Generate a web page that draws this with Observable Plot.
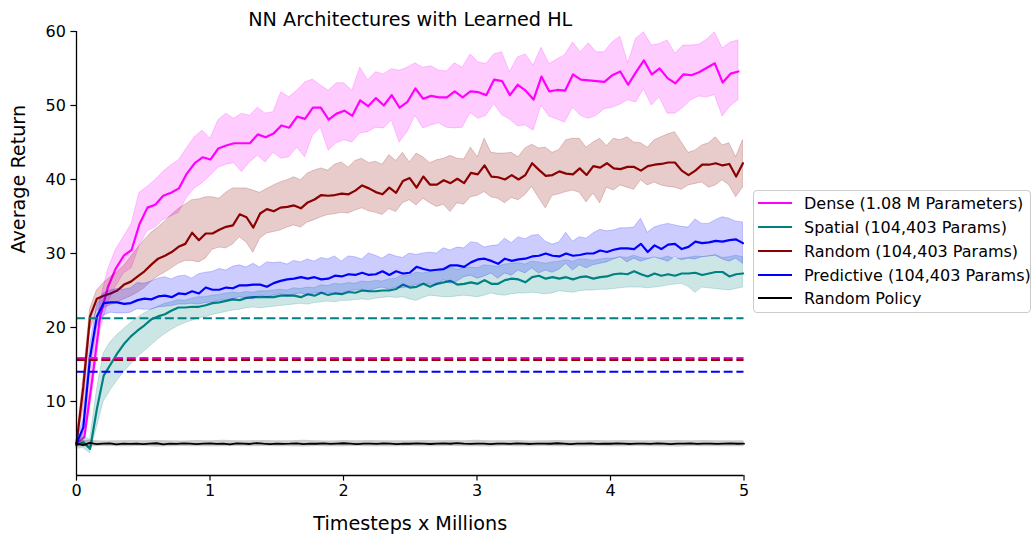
<!DOCTYPE html>
<html><head><meta charset="utf-8">
<script src="https://cdn.jsdelivr.net/npm/d3@7"></script>
<script src="https://cdn.jsdelivr.net/npm/@observablehq/plot@0.6"></script>
<style>
body{margin:0;background:#fff;font-family:"DejaVu Sans",sans-serif;}
#wrap{position:relative;width:1033px;height:540px;overflow:hidden;}
#legend{position:absolute;left:753px;top:190px;width:278px;height:123px;border:1px solid #cccccc;border-radius:4px;background:#fff;box-sizing:border-box;}
.row{position:absolute;left:0;height:24px;display:flex;align-items:center;font-size:16px;color:#000;white-space:nowrap;}
.sw{width:34px;height:2.4px;margin-left:4px;margin-right:12px;}
</style></head><body><div id="wrap"><div id="legend"></div></div>
<script>
// ---- data (Timesteps in millions, Average Return) ----
const title = "NN Architectures with Learned HL";
const xLabel = "Timesteps x Millions";
const yLabel = "Average Return";
const xTicks = [0, 1, 2, 3, 4, 5];
const yTicks = [10, 20, 30, 40, 50, 60];

const seriesNames = ["Dense (1.08 M Parameters)", "Spatial (104,403 Params)", "Random (104,403 Params)", "Predictive (104,403 Params)", "Random Policy"];
const seriesColors = ["#ff00ff", "#008080", "#8b0000", "#0000ff", "#000000"];

// sampling interval of each logged run (millions of timesteps)
const denseStep = 0.05903;
const runStep = 0.05094;
const policyStep = 0.05;
const policyBandStep = 0.1;

const denseMean = [4.3,5.2,13,21.5,25.5,28,29.7,30.5,34,36.2,36.6,37.8,38.2,38.8,40.8,42.2,43,42.7,44.2,44.6,44.9,44.9,44.9,46.1,45.7,46.2,47.3,47,48.5,48.2,49.7,49.7,48.1,48.9,49.3,48.6,50.7,49.9,51,50,51.4,49.7,50.5,52.3,50.9,51.3,51.1,51.1,51.9,51.1,51.9,51.8,51.4,53.5,53.3,51.4,52.8,52,50.8,53.9,51.9,52.1,52,54.2,53.5,53.4,53.3,53.2,54.1,54.6,52.8,54.5,56.1,54.2,55,53.7,53,54.2,54.1,54.5,55.1,55.7,53.1,54.3,54.6];
const denseHi = [4.6,6,15,23.5,27.8,30.5,32.2,34,38.2,39,39.9,41,41.9,42.6,44.2,45.7,46.6,45.5,48,48.9,48.2,48.9,48.6,49.7,48.9,49.1,51.8,51.1,52,53.1,53.5,52.7,52,53,53,52,55.1,53.4,54.5,54.2,54.9,54.7,55.1,55.7,55.1,55.3,54.7,54.6,55.7,55.1,56.9,55.8,55.6,56.9,57.2,54.5,56.5,56.9,55.4,57.8,55.6,56.2,56.8,58.5,57.2,58.4,57.2,57.2,58.5,59.3,55.7,59,59.9,58.1,58.3,58.8,57,58.1,58.1,58.2,58.9,59.9,57.7,58.5,58.8];
const denseLo = [4,4.6,11,19.5,23.3,25.5,27.3,28,31,33,33.5,34.5,35,35.5,37.5,38.8,39.5,40.5,41.6,42,42.2,41,42.3,43.2,42.3,43.6,42.8,43,44.3,43,45.9,47,43.9,44.9,45.3,45,46.2,46.4,47,46.9,48,45,46.4,48.6,46.9,47.3,47.6,47,46.9,47,49,48.2,48.6,50.2,48.7,48.1,47.2,47.3,46.6,50,48.5,48.1,47.7,49.7,48.6,48.2,48.6,49.5,49.7,50.1,50.7,50.4,52.2,50,51.1,48.9,48.9,49.7,50.7,51.2,51.1,51.4,48.5,49.9,50.7];

const spatialMean = [4.1,4.5,3.6,9,13.5,15,16.5,17.8,18.8,19.6,20.3,21.1,21.5,21.8,22.3,22.7,22.7,22.8,22.8,23,23.3,23.4,23.6,23.8,23.7,24,24.1,24.1,24.1,24.1,24.3,24.3,24.3,24.1,24.5,24.3,24.7,24.4,24.6,24.5,24.8,24.7,25,24.9,24.9,25,25,25.2,25.8,25.4,25.5,25.9,25.5,25.9,26.1,26.3,25.8,25.9,26.1,25.9,26.4,25.9,25.9,26.4,26.6,26.5,26.1,26.8,27,26.6,26.8,26.6,26.8,26.5,26.8,26.9,26.6,26.8,26.9,27.2,27.3,27.2,27.6,27.2,26.9,27.3,27,27.2,27,27.3,27.3,27.4,27.1,27.3,27.5,27.5,26.9,27.2,27.3];
const spatialHi = [4.5,5.3,4.8,11.5,16.5,18,19,19.8,20.6,21.3,21.9,22.4,22.8,23.2,23.4,23.7,23.6,23.9,24.1,24.1,24.3,24.4,24.6,24.7,24.6,24.8,24.7,24.9,24.9,25,25.1,25,25.3,25.2,25.4,25.3,25.7,25.6,25.9,25.8,26,25.9,26.2,26.1,26.3,26.2,26.5,26.6,27.1,27,27.4,27.3,27.5,27.7,27.8,28.1,27.8,28,28.1,28,28.4,28.3,28.2,28.5,28.6,28.7,28.5,28.9,28.8,28.6,28.8,28.9,29.1,28.9,29.2,29.2,29,29.2,29.3,29.3,29.5,29.4,29.7,29.4,29.3,29.4,29.3,29.6,29.2,29.3,29.4,29.6,29.5,29.6,29.8,29.4,29.5,29.7,29.5];
const spatialLo = [3.6,3.7,3,6.5,10,11.5,12.8,14,15,16,16.8,17.6,18.4,19.1,19.7,20.2,20.6,20.9,21.2,21.4,21.7,21.9,22.1,22.3,22.4,22.6,22.7,22.6,22.7,22.8,22.9,23,23.1,23.2,23.1,23.3,23.4,23.5,23.4,23.6,23.6,23.7,23.8,23.7,23.9,24,24.1,24,24.1,23.8,23.6,24,24.3,24.2,24.1,24.1,24.2,24.3,24.2,24.1,24.3,24.6,24.4,24.3,24.5,24.6,24.6,24.7,24.6,24.5,24.6,24.9,24.8,24.7,24.9,25,25,25.1,25.1,25.2,25.3,25.4,25.4,25.4,25.3,25.4,25.5,25.7,25.8,25.9,25.5,24.7,25.4,25.3,25.2,25.1,25,25.2,25.4];

const randomMean = [4.3,12,21.5,23.9,24.3,24.6,25,25.8,26.2,26.9,27.6,28.5,29.3,29.7,30.2,30.9,31.3,32.8,31.8,32.7,32.7,33.2,33.6,33.8,35.3,34.9,33.5,35.4,36,35.7,36.2,36.3,36.5,36.1,36.9,37.3,37.9,37.8,37.9,38.1,38,38.5,39.2,38.8,38.3,38,38.9,38.2,39.8,40.2,38.9,40.4,39.3,39.3,39.9,39.5,40.1,39.5,40.9,40.7,41.9,40.4,40.3,40,40.6,40,40.6,42.2,41.3,40.5,40.6,41.1,40.8,40.7,41.5,40.6,41.8,41.6,42.2,41.5,41.4,41.7,41.7,41.2,41.8,42,42.1,42.3,42.3,41.2,40.6,41.2,42,42,42.2,41.9,42.1,40.4,42.2];
const randomHi = [4.6,13,22.5,25,26,26.8,27.5,28.3,29.5,30.7,31.8,32.8,33.5,34.3,35.2,36,36.6,37.2,37.3,37.6,37.6,37.4,38.2,38.8,38.8,38.8,38.5,38.2,38.7,39.2,39.6,39.9,40.3,39.9,40.8,41.2,41.5,41.2,42,42.3,41.6,42.5,42.8,42.2,42.4,42,43.3,42.5,43.6,42.3,43.5,43,42.2,42.6,42.8,43.2,42.8,42.7,44.3,43,45.5,43.6,43.5,43.5,43.6,43,44.2,44.7,44.2,44.3,43.6,44,45.3,45.5,45.5,44.3,45,45.5,44.5,45.5,45.3,45.7,45,44.9,44.3,45.3,45.7,46.1,46.4,45,43.6,43.9,44.6,44.9,45.7,44.6,44.9,43,45.3];
const randomLo = [4,9,19.5,22.3,22.6,23,23.4,23.8,24.2,24.7,25.3,26.2,26.9,27.4,28,28.6,29,29,28.8,29.3,30.5,30.8,30.7,31.2,32.2,31.5,30.1,32,32.7,32.9,33.1,33.5,33.8,33.5,34.2,34.5,34.9,35.2,35.3,35.5,35.4,35.8,36.1,35.7,35.5,35.2,36,35.6,36.8,37.2,36.5,37.4,36.8,36.3,36.6,35.6,36.8,36.6,37.6,37.8,38.3,37.6,37.4,36.8,37.5,37.2,37.9,39,37.5,36.1,37.8,38,38.3,38.5,38.2,36.9,38.1,36.8,38.9,38.5,39.2,38.9,38.6,39.9,39.2,39.6,39.2,39,38.9,38.6,39.2,39.4,39.6,38.9,39.2,39.9,39.2,37.6,38.9];

const predictiveMean = [4.3,6.5,16,21.5,23.3,23.4,23.4,23.2,23.3,23.7,23.9,23.8,24.2,24.3,24.1,24.6,24.5,24.9,24.6,25.4,25.1,25.1,25.4,25.3,25.7,25.7,25.8,25.8,25.5,26,26.3,26.5,26.6,26.8,26.6,26.8,26.5,26.6,27,26.9,27.2,27.1,27.4,27.1,27.2,27.6,27.1,27.6,27.3,27.4,28.2,27.9,27.7,27.8,27.9,28.4,28.4,28.2,28.8,29.2,29.3,29,28.6,29.3,29,29.2,29.3,29.6,29.7,30,29.7,29.6,30,29.7,29.8,30,30,30.4,30.2,30.5,30.7,30.7,30.6,31.3,30.2,31.1,30.6,31.2,31.3,30.6,30.9,31.6,31.4,31.5,31.7,31.6,31.8,31.9,31.4];
const predictiveHi = [4.6,7.5,17.5,23,24.6,25,25.2,25.1,25.3,26,25.9,26.2,26.6,26.8,26.5,26.9,27,26.6,27.2,27.4,27.5,27.9,27.7,28.2,28.4,28.1,28.6,28.1,28.8,28.7,28.8,28.5,29,28.8,29.2,28.9,29.4,29.2,29.6,28.9,29.6,29.5,29.2,30,29.7,29.3,29.9,29.6,29.4,30,29.8,30,30.1,30,30.7,30.4,30.8,30.7,31.5,31.4,30.8,31,31.1,32,31.4,32.2,31.9,32.4,32.5,31.6,31.2,31.5,32.8,31.6,32.2,32,32.7,33.2,33,33.1,33.4,33.4,33.5,34.7,32.8,33.5,33.8,34,33.8,33.6,33.5,34.6,34,34,34.5,34.9,34.7,34.3,34.2];
const predictiveLo = [4,5.5,14,20,21.6,22,21.9,21.9,22,22.5,22.4,22.4,22.7,22.8,22.9,23.1,23.1,23.2,23.1,23.3,23.4,23.6,23.7,23.8,24.1,23.9,23.8,24.3,24.1,24.3,24.5,24.2,24.4,24.6,24.3,24.6,24.6,24.7,24.6,24.5,24.9,25,25.1,24.9,25.2,25.4,25.1,25.4,25.3,25.5,25.7,25.9,25.8,25.7,26.4,25.9,26.2,26.8,27,26.6,26.9,27.3,26.6,27.3,27,27.7,27.3,28,27.3,27.7,27.4,27.8,28.6,27.7,28.4,28,28.4,28.6,28.8,29.2,29.5,28.8,29.3,28.9,29.2,29.5,29.2,28.9,29.5,29.1,29.3,29.2,29.5,29.6,29.7,29.2,28.9,29.3,28.6];

const policyMean = [4.3,4.1,4.4,4.25,4.3,4.35,4.2,4.3,4.28,4.32,4.25,4.3,4.36,4.22,4.3,4.27,4.33,4.3,4.24,4.31,4.35,4.28,4.3,4.22,4.33,4.3,4.26,4.38,4.3,4.25,4.32,4.28,4.3,4.35,4.24,4.3,4.29,4.33,4.27,4.31,4.36,4.3,4.25,4.3,4.32,4.28,4.34,4.3,4.23,4.31,4.29,4.35,4.3,4.26,4.3,4.33,4.29,4.37,4.3,4.27,4.3,4.32,4.25,4.31,4.3,4.28,4.34,4.3,4.26,4.32,4.3,4.29,4.36,4.3,4.24,4.31,4.3,4.33,4.27,4.3,4.29,4.35,4.3,4.26,4.32,4.3,4.28,4.33,4.3,4.25,4.31,4.3,4.34,4.28,4.3,4.32,4.27,4.3,4.33,4.29,4.3];
const policyHi = [4.7,4.75,4.65,4.7,4.72,4.68,4.74,4.7,4.66,4.72,4.7,4.75,4.68,4.7,4.73,4.69,4.71,4.76,4.7,4.67,4.72,4.7,4.74,4.69,4.71,4.7,4.73,4.68,4.72,4.7,4.75,4.69,4.7,4.72,4.67,4.71,4.74,4.7,4.68,4.72,4.7,4.73,4.69,4.71,4.7,4.74,4.68,4.72,4.7,4.71,4.7];
const policyLo = [3.9,3.85,3.92,3.9,3.88,3.91,3.86,3.9,3.93,3.88,3.9,3.87,3.91,3.89,3.92,3.88,3.9,3.86,3.91,3.9,3.88,3.92,3.89,3.9,3.87,3.91,3.9,3.88,3.93,3.89,3.9,3.86,3.91,3.9,3.88,3.92,3.89,3.9,3.87,3.91,3.9,3.88,3.92,3.89,3.9,3.86,3.91,3.9,3.88,3.9,3.9];

// best-run reference levels (dashed)
const denseRef = 15.85;
const randomRef = 15.62;
const spatialRef = 21.25;
const predictiveRef = 14.02;

// ---- build tables ----
function rows(mean, lo, hi, step) {
  return mean.map((m, i) => ({x: i * step, m, lo: lo[i], hi: hi[i]}));
}
const dense = rows(denseMean, denseLo, denseHi, denseStep);
const spatial = rows(spatialMean, spatialLo, spatialHi, runStep);
const random = rows(randomMean, randomLo, randomHi, runStep);
const predictive = rows(predictiveMean, predictiveLo, predictiveHi, runStep);
const policy = policyMean.map((m, i) => ({x: i * policyStep, m}));
const policyBand = policyHi.map((h, i) => ({x: i * policyBandStep, lo: policyLo[i], hi: h}));

const LW = 2.2;
function band(data, color) {
  return Plot.areaY(data, {x: "x", y1: "lo", y2: "hi", fill: color, fillOpacity: 0.2, stroke: color, strokeOpacity: 0.2, strokeWidth: 1});
}
function line(data, color) {
  return Plot.line(data, {x: "x", y: "m", stroke: color, strokeWidth: LW});
}
const dash = "8.9,3.8";

const chart = Plot.plot({
  width: 1033,
  height: 540,
  marginLeft: 76,
  marginRight: 289.5,
  marginTop: 31,
  marginBottom: 65,
  x: {domain: [0, 5]},
  y: {domain: [0, 60]},
  style: {fontFamily: "DejaVu Sans, sans-serif", fontSize: "16px", color: "#000", background: "transparent", overflow: "visible"},
  marks: [
    band(dense, seriesColors[0]), line(dense, seriesColors[0]),
    band(spatial, seriesColors[1]), line(spatial, seriesColors[1]),
    band(random, seriesColors[2]), line(random, seriesColors[2]),
    band(predictive, seriesColors[3]), line(predictive, seriesColors[3]),
    Plot.areaY(policyBand, {x: "x", y1: "lo", y2: "hi", fill: "#000", fillOpacity: 0.2}),
    Plot.line(policy, {x: "x", y: "m", stroke: "#000", strokeWidth: 1.8}),
    Plot.ruleY([denseRef], {stroke: seriesColors[0], strokeWidth: LW, strokeDasharray: dash}),
    Plot.ruleY([randomRef], {stroke: seriesColors[2], strokeWidth: LW, strokeDasharray: dash}),
    Plot.ruleY([spatialRef], {stroke: seriesColors[1], strokeWidth: LW, strokeDasharray: dash}),
    Plot.ruleY([predictiveRef], {stroke: seriesColors[3], strokeWidth: LW, strokeDasharray: dash}),
    Plot.ruleY([0], {stroke: "#000", strokeWidth: 1.3}),
    Plot.ruleX([0], {stroke: "#000", strokeWidth: 1.3}),
    Plot.axisX({ticks: xTicks, tickSize: 5.6, tickPadding: 4, label: null, tickFormat: d => String(d), fontSize: 16, strokeWidth: 1.2}),
    Plot.axisY({ticks: yTicks, tickSize: 5.6, tickPadding: 5, label: null, tickFormat: d => String(d), fontSize: 16, strokeWidth: 1.2}),
    Plot.text([title], {text: d => d, frameAnchor: "top", dy: -19, fontSize: 19.2, fill: "#000"}),
    Plot.text([xLabel], {text: d => d, frameAnchor: "bottom", dy: 54, fontSize: 19.2, fill: "#000"}),
    Plot.text([yLabel], {text: d => d, frameAnchor: "left", dx: -58, rotate: -90, fontSize: 19.2, fill: "#000"})
  ]
});
document.getElementById("wrap").prepend(chart);

// legend
const legend = document.getElementById("legend");
const rowCenters = [13, 37, 61, 85, 108];
seriesNames.forEach((name, i) => {
  const r = document.createElement("div");
  r.className = "row";
  r.style.top = (rowCenters[i] - 12 - 1) + "px";
  const sw = document.createElement("span");
  sw.className = "sw";
  sw.style.background = seriesColors[i];
  const t = document.createElement("span");
  t.textContent = name;
  r.appendChild(sw); r.appendChild(t);
  legend.appendChild(r);
});
</script>
</body></html>
